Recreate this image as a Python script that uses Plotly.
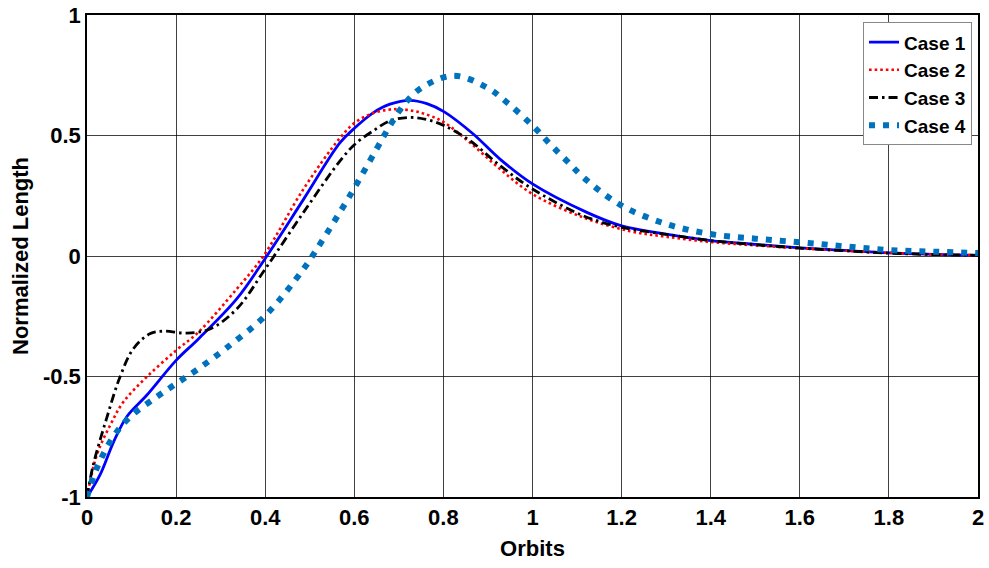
import plotly.graph_objects as go

# Case 1 (blue solid)
x1 = [0, 0.03, 0.06, 0.09, 0.134, 0.2, 0.25, 0.336, 0.4, 0.486, 0.568, 0.602, 0.643, 0.68, 0.725,
      0.763, 0.802, 0.867, 0.927, 1.0, 1.122, 1.2, 1.3, 1.4, 1.5, 1.6, 1.7, 1.8, 1.9, 2.0]
y1 = [-1, -0.905, -0.77, -0.665, -0.578, -0.433, -0.344, -0.178, -0.01, 0.235, 0.47, 0.533, 0.595, 0.63, 0.646,
      0.632, 0.598, 0.506, 0.402, 0.299, 0.181, 0.125, 0.091, 0.064, 0.048, 0.034, 0.023, 0.013, 0.007, 0.003]

# Case 2 (red dotted)
x2 = [0, 0.022, 0.052, 0.082, 0.134, 0.2, 0.25, 0.336, 0.396, 0.486, 0.568, 0.602, 0.643, 0.688, 0.733,
      0.77, 0.802, 0.86, 0.927, 1.0, 1.114, 1.219, 1.3, 1.4, 1.5, 1.6, 1.7, 1.8, 1.9, 2.0]
y2 = [-1, -0.826, -0.702, -0.605, -0.502, -0.392, -0.316, -0.137, 0.0, 0.278, 0.49, 0.554, 0.593, 0.609, 0.602,
      0.582, 0.554, 0.47, 0.361, 0.257, 0.16, 0.103, 0.08, 0.058, 0.044, 0.032, 0.022, 0.013, 0.007, 0.003]

# Case 3 (black dash-dot)
x3 = [0, 0.014, 0.044, 0.074, 0.104, 0.141, 0.171, 0.224, 0.276, 0.336, 0.4, 0.486, 0.568, 0.602, 0.643,
      0.68, 0.725, 0.763, 0.802, 0.86, 0.927, 1.0, 1.114, 1.2, 1.3, 1.4, 1.5, 1.6, 1.7, 1.8, 1.9, 2.0]
y3 = [-1, -0.867, -0.674, -0.502, -0.385, -0.323, -0.312, -0.32, -0.303, -0.22, -0.054, 0.181, 0.395, 0.465, 0.52,
      0.561, 0.575, 0.566, 0.541, 0.478, 0.375, 0.278, 0.167, 0.119, 0.09, 0.064, 0.047, 0.033, 0.022, 0.012, 0.006, 0.003]

# Case 4 (thick light-blue dotted)
x4 = [0, 0.022, 0.059, 0.097, 0.156, 0.2, 0.25, 0.314, 0.4, 0.486, 0.516, 0.59, 0.65, 0.68, 0.71,
      0.747, 0.822, 0.897, 0.942, 1.0, 1.039, 1.077, 1.118, 1.2, 1.3, 1.4, 1.5, 1.6, 1.7, 1.8, 1.9, 2.0]
y4 = [-1, -0.88, -0.75, -0.667, -0.585, -0.53, -0.468, -0.38, -0.248, -0.054, 0.029, 0.25, 0.444, 0.541, 0.624,
      0.693, 0.748, 0.7, 0.638, 0.541, 0.465, 0.395, 0.32, 0.209, 0.133, 0.091, 0.072, 0.057, 0.04, 0.025, 0.018, 0.012]

x_ticks = [0, 0.2, 0.4, 0.6, 0.8, 1, 1.2, 1.4, 1.6, 1.8, 2]
x_labels = ["0", "0.2", "0.4", "0.6", "0.8", "1", "1.2", "1.4", "1.6", "1.8", "2"]
y_ticks = [-1, -0.5, 0, 0.5, 1]
y_labels = ["-1", "-0.5", "0", "0.5", "1"]

series = [
    ("Case 1", x1, y1, dict(color="#0000FF", width=2.8, dash="solid")),
    ("Case 2", x2, y2, dict(color="#FF0000", width=2.6, dash="2.6px,3px")),
    ("Case 3", x3, y3, dict(color="#000000", width=2.8, dash="9px,4px,2.5px,4px")),
    ("Case 4", x4, y4, dict(color="#0072BD", width=6, dash="6px,8px")),
]

FONT = "Liberation Sans, Arial, sans-serif"

fig = go.Figure()
for name, xs, ys, ln in series:
    fig.add_trace(go.Scatter(x=xs, y=ys, mode="lines", name=name,
                             line=dict(shape="spline", smoothing=1.0, **ln)))

axis_common = dict(
    showgrid=True, gridcolor="rgba(0,0,0,0.75)", gridwidth=1, automargin=False,
    zeroline=False, showline=True, linecolor="#000", linewidth=1.5, mirror=True,
    ticks="", tickfont=dict(family=FONT, size=22, color="#000", weight="bold"),
)

fig.update_layout(
    width=989, height=568,
    margin=dict(l=87, r=11, t=15, b=71),
    paper_bgcolor="white", plot_bgcolor="white",
    showlegend=True,
    legend=dict(x=0.9933, y=0.985, xanchor="right", yanchor="top",
                bgcolor="white", bordercolor="#888", borderwidth=1,
                font=dict(family=FONT, size=19, color="#000", weight="bold"),
                tracegroupgap=0, itemwidth=30),
    xaxis=dict(range=[0, 2], tickvals=x_ticks, ticktext=x_labels,
               title=dict(text="Orbits", standoff=11,
                          font=dict(family=FONT, size=22, color="#000", weight="bold")),
               **axis_common),
    yaxis=dict(range=[-1, 1], tickvals=y_ticks, ticktext=y_labels,
               title=dict(text="Normalized Length", standoff=8,
                          font=dict(family=FONT, size=22, color="#000", weight="bold")),
               **axis_common),
)

fig.write_html("out.html")
